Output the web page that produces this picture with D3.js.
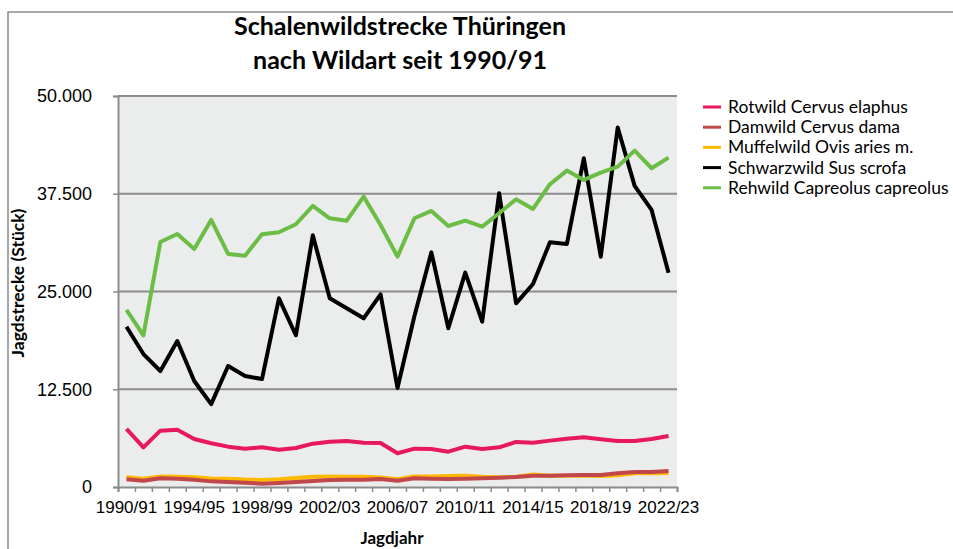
<!DOCTYPE html>
<html>
<head>
<meta charset="utf-8">
<script src="https://cdn.jsdelivr.net/npm/d3@7"></script>
<style>
  body { margin: 0; background: #fff; }
  svg { font-family: Lato, "Open Sans", sans-serif; }
</style>
</head>
<body>
<div id="vis"></div>
<script>
var width = 953;
var height = 549;

var plot = {left: 118, right: 677, top: 96, bottom: 487};

var years = [];
for (var y = 1990; y <= 2022; y++) {
  years.push(y + "/" + String((y + 1) % 100).padStart(2, "0"));
}

var series_names = [
  "Rotwild Cervus elaphus",
  "Damwild Cervus dama",
  "Muffelwild Ovis aries m.",
  "Schwarzwild Sus scrofa",
  "Rehwild Capreolus capreolus"
];
var series_colors = ["#e8185c", "#c0474a", "#ffb900", "#000000", "#6cbd45"];

var rotwild = [7420, 5070, 7200, 7330, 6140, 5590, 5160, 4900, 5070, 4770, 4990, 5540, 5800, 5880, 5670, 5630,
  4310, 4900, 4860, 4520, 5160, 4860, 5070, 5760, 5670, 5930, 6180, 6350, 6100, 5880, 5880, 6140, 6520];
var damwild = [980, 810, 1110, 1070, 940, 720, 640, 550, 420, 510, 640, 770, 900, 940, 940, 1020,
  810, 1110, 1070, 1020, 1070, 1110, 1190, 1280, 1450, 1450, 1490, 1530, 1530, 1750, 1920, 1920, 2050];
var muffelwild = [1250, 1050, 1350, 1300, 1250, 1100, 1050, 950, 900, 1000, 1150, 1300, 1350, 1300, 1300, 1200,
  1000, 1350, 1350, 1400, 1450, 1300, 1250, 1300, 1600, 1450, 1450, 1450, 1400, 1500, 1750, 1750, 1800];
var schwarzwild = [20500, 17000, 14830, 18670, 13560, 10600, 15470, 14200, 13800, 24130, 19400, 32190, 24130, 22850, 21570, 24640,
  12660, 21870, 30010, 20300, 27410, 21140, 37560, 23490, 25960, 31300, 31080, 42040, 29460, 45960, 38500, 35430, 27410];
var rehwild = [22640, 19400, 31330, 32360, 30440, 34150, 29800, 29580, 32320, 32570, 33600, 35940, 34360, 34060, 37130, 33510,
  29460, 34370, 35300, 33380, 34060, 33290, 35010, 36800, 35560, 38720, 40460, 39270, 40200, 40970, 43010, 40760, 42120];

var y_ticks = [0, 12500, 25000, 37500, 50000];

// draw order: muffelwild below damwild
var series = [
  {name: series_names[0], color: series_colors[0], values: rotwild},
  {name: series_names[2], color: series_colors[2], values: muffelwild},
  {name: series_names[1], color: series_colors[1], values: damwild},
  {name: series_names[3], color: series_colors[3], values: schwarzwild},
  {name: series_names[4], color: series_colors[4], values: rehwild}
];

var svg = d3.select("#vis").append("svg")
  .attr("width", width)
  .attr("height", height);

// outer frame
svg.append("rect")
  .attr("x", 8).attr("y", 12)
  .attr("width", 970).attr("height", 560)
  .attr("fill", "none")
  .attr("stroke", "#8a8a8a")
  .attr("stroke-width", 1.5);

var x_scale = d3.scaleBand()
  .domain(years)
  .range([plot.left, plot.right])
  .padding(0);

var y_scale = d3.scaleLinear()
  .domain([0, 50000])
  .range([plot.bottom, plot.top]);

svg.append("rect")
  .attr("x", plot.left).attr("y", plot.top)
  .attr("width", plot.right - plot.left)
  .attr("height", plot.bottom - plot.top)
  .attr("fill", "#ebecec");

// gridlines
svg.append("g").selectAll("line")
  .data(y_ticks.filter(d => d > 0))
  .enter().append("line")
  .attr("x1", plot.left).attr("x2", plot.right)
  .attr("y1", d => y_scale(d)).attr("y2", d => y_scale(d))
  .attr("stroke", "#8c8c8c")
  .attr("stroke-width", 2);

var fmt = d => d3.format(",")(d).replace(/,/g, ".");

var y_axis = svg.append("g")
  .attr("transform", "translate(" + plot.left + ",0)")
  .call(d3.axisLeft(y_scale).tickValues(y_ticks).tickFormat(fmt).tickSize(5).tickPadding(21));
y_axis.select(".domain").attr("stroke", "#8c8c8c").attr("stroke-width", 2);
y_axis.selectAll(".tick line").attr("stroke", "#8c8c8c").attr("stroke-width", 1.5);
y_axis.selectAll("text").attr("font-size", 18).attr("fill", "#000");

// category tick marks sit between categories
var edge_scale = d3.scaleLinear().domain([0, years.length]).range([plot.left, plot.right]);
var x_ticks = svg.append("g")
  .attr("transform", "translate(0," + plot.bottom + ")")
  .call(d3.axisBottom(edge_scale).tickValues(d3.range(years.length + 1)).tickFormat("").tickSize(5));
x_ticks.select(".domain").attr("stroke", "#8c8c8c").attr("stroke-width", 2);
x_ticks.selectAll(".tick line").attr("stroke", "#8c8c8c").attr("stroke-width", 1.5);

var x_axis = svg.append("g")
  .attr("transform", "translate(0," + plot.bottom + ")")
  .call(d3.axisBottom(x_scale).tickValues(years.filter((d, i) => i % 4 == 0)).tickSize(0).tickPadding(14));
x_axis.select(".domain").remove();
x_axis.selectAll("text").attr("font-size", 17).attr("fill", "#000");

var line = d3.line()
  .x((d, i) => x_scale(years[i]) + x_scale.bandwidth() / 2)
  .y(d => y_scale(d));

svg.append("g").selectAll("path")
  .data(series)
  .enter().append("path")
  .attr("d", d => line(d.values))
  .attr("fill", "none")
  .attr("stroke", d => d.color)
  .attr("stroke-width", 4)
  .attr("stroke-linejoin", "round");

// titles
svg.append("text")
  .attr("x", 400).attr("y", 35)
  .attr("text-anchor", "middle")
  .attr("font-size", 25).attr("font-weight", "bold")
  .text("Schalenwildstrecke Thüringen");
svg.append("text")
  .attr("x", 400).attr("y", 69)
  .attr("text-anchor", "middle")
  .attr("font-size", 25).attr("font-weight", "bold")
  .text("nach Wildart seit 1990/91");

svg.append("text")
  .attr("transform", "translate(24,283) rotate(-90)")
  .attr("text-anchor", "middle")
  .attr("font-size", 17.5).attr("font-weight", "bold")
  .text("Jagdstrecke (Stück)");

svg.append("text")
  .attr("x", 392).attr("y", 544)
  .attr("text-anchor", "middle")
  .attr("font-size", 17).attr("font-weight", "bold")
  .text("Jagdjahr");

// legend
var legend = svg.append("g").selectAll("g")
  .data(series_names)
  .enter().append("g")
  .attr("transform", (d, i) => "translate(703," + (107 + i * 20.2) + ")");
legend.append("line")
  .attr("x1", 0).attr("x2", 18)
  .attr("stroke", (d, i) => series_colors[i])
  .attr("stroke-width", 3);
legend.append("text")
  .attr("x", 25).attr("y", 6)
  .attr("font-size", 17.5)
  .text(d => d);
</script>
</body>
</html>
